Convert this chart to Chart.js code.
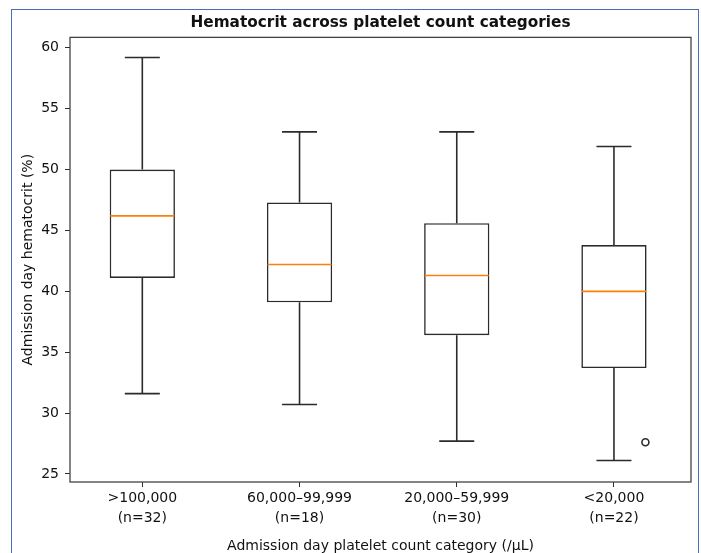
<!DOCTYPE html>
<html>
<head>
<meta charset="utf-8">
<script src="https://cdn.jsdelivr.net/npm/chart.js@4"></script>
<style>
  html, body { margin: 0; padding: 0; background: #fff; }
  #wrap { position: relative; width: 701px; height: 553px; }
  #frame { position: absolute; left: 11px; top: 9px; width: 688px; height: 560px;
           border: 1.5px solid #4a6db3; pointer-events: none; box-sizing: border-box; }
</style>
</head>
<body>
<div id="wrap">
  <canvas id="boxChart" width="701" height="553"></canvas>
  <div id="frame"></div>
</div>
<script>
// box statistics
const categories = ['>100,000', '60,000–99,999', '20,000–59,999', '<20,000'];
const counts = ['(n=32)', '(n=18)', '(n=30)', '(n=22)'];
const whiskerLow = [31.6, 30.7, 27.7, 26.1];
const q1 = [41.1, 39.1, 36.4, 33.7];
const medians = [46.2, 42.2, 41.3, 40.0];
const q3 = [50.0, 47.3, 45.6, 43.8];
const whiskerHigh = [59.2, 53.1, 53.1, 51.9];
// the outlier sits a little right of its box in the figure
const outliers = [{ x: 4.2, value: 27.6 }];
const yTicks = [25, 30, 35, 40, 45, 50, 55, 60];

const FONT = 'DejaVu Sans';
const INK = '#2b2b2b';

const pos = categories.map((c, i) => i + 1);

const whiskerData = [];
pos.forEach((x, i) => {
  whiskerData.push({ x: x, y: q3[i] }, { x: x, y: whiskerHigh[i] }, { x: x, y: null });
  whiskerData.push({ x: x, y: q1[i] }, { x: x, y: whiskerLow[i] }, { x: x, y: null });
});
const capData = [];
pos.forEach((x, i) => {
  capData.push({ x: x, y: whiskerHigh[i] }, { x: x, y: whiskerLow[i] });
});

const frameBox = {
  id: 'frameBox',
  afterDraw(chart) {
    const a = chart.chartArea, ctx = chart.ctx;
    ctx.save();
    ctx.strokeStyle = '#444';
    ctx.lineWidth = 1.3;
    ctx.strokeRect(a.left, a.top, a.right - a.left, a.bottom - a.top);
    ctx.restore();
  }
};

new Chart(document.getElementById('boxChart'), {
  type: 'bar',
  data: {
    datasets: [
      {
        type: 'scatter', label: 'median', order: 0,
        data: pos.map((x, i) => ({ x: x, y: medians[i] })),
        pointStyle: 'line', pointRadius: 32, borderColor: '#ff7f0e', borderWidth: 1.6
      },
      {
        type: 'bar', label: 'IQR', order: 1,
        data: pos.map((x, i) => ({ x: x, y: [q1[i], q3[i]] })),
        backgroundColor: '#fff', borderColor: INK, borderWidth: 1.6, borderSkipped: false,
        barPercentage: 0.415, categoryPercentage: 1
      },
      {
        type: 'line', label: 'whiskers', order: 2,
        data: whiskerData, borderColor: INK, borderWidth: 1.6, pointRadius: 0, spanGaps: false
      },
      {
        type: 'scatter', label: 'caps', order: 2,
        data: capData, pointStyle: 'line', pointRadius: 17.5, borderColor: INK, borderWidth: 1.6
      },
      {
        type: 'scatter', label: 'outliers', order: 0,
        data: outliers.map(o => ({ x: o.x, y: o.value })),
        pointStyle: 'circle', pointRadius: 3.5, backgroundColor: '#fff', borderColor: INK, borderWidth: 1.6
      }
    ]
  },
  options: {
    responsive: false,
    animation: false,
    events: [],
    layout: { autoPadding: false, padding: { left: 0, right: 10, top: 0, bottom: 0 } },
    plugins: {
      legend: { display: false },
      tooltip: { enabled: false },
      title: {
        display: true, fullSize: false,
        text: 'Hematocrit across platelet count categories',
        color: '#111',
        font: { family: FONT, size: 15.3, weight: 'bold', lineHeight: 1.2 },
        padding: { top: 14, bottom: 5 }
      }
    },
    scales: {
      x: {
        type: 'linear', min: 0.54, max: 4.49, offset: false,
        afterFit: s => { s.height = 71; s.paddingLeft = 0; s.paddingRight = 0; },
        afterBuildTicks: s => { s.ticks = pos.map(v => ({ value: v })); },
        grid: { display: true, offset: false, drawOnChartArea: false, drawTicks: true, tickLength: 5, color: INK },
        border: { display: false },
        ticks: {
          color: '#111', padding: 1,
          font: { family: FONT, size: 14, lineHeight: 1.43 },
          callback: v => [categories[v - 1], counts[v - 1]]
        },
        title: {
          display: true, text: 'Admission day platelet count category (/µL)', color: '#111',
          font: { family: FONT, size: 14, lineHeight: 1.0 }, padding: { top: 0, bottom: 0 }
        }
      },
      y: {
        type: 'linear', min: 24.34, max: 60.86,
        afterFit: s => { s.width = 70; },
        afterBuildTicks: s => { s.ticks = yTicks.map(v => ({ value: v })); },
        grid: { display: true, drawOnChartArea: false, drawTicks: true, tickLength: 5, color: INK },
        border: { display: false },
        ticks: { color: '#111', padding: 6, font: { family: FONT, size: 14 } },
        title: {
          display: true, text: 'Admission day hematocrit (%)', color: '#111',
          font: { family: FONT, size: 14, lineHeight: 1.2 }, padding: { top: 20, bottom: 0 }
        }
      }
    }
  },
  plugins: [frameBox]
});
</script>
</body>
</html>
